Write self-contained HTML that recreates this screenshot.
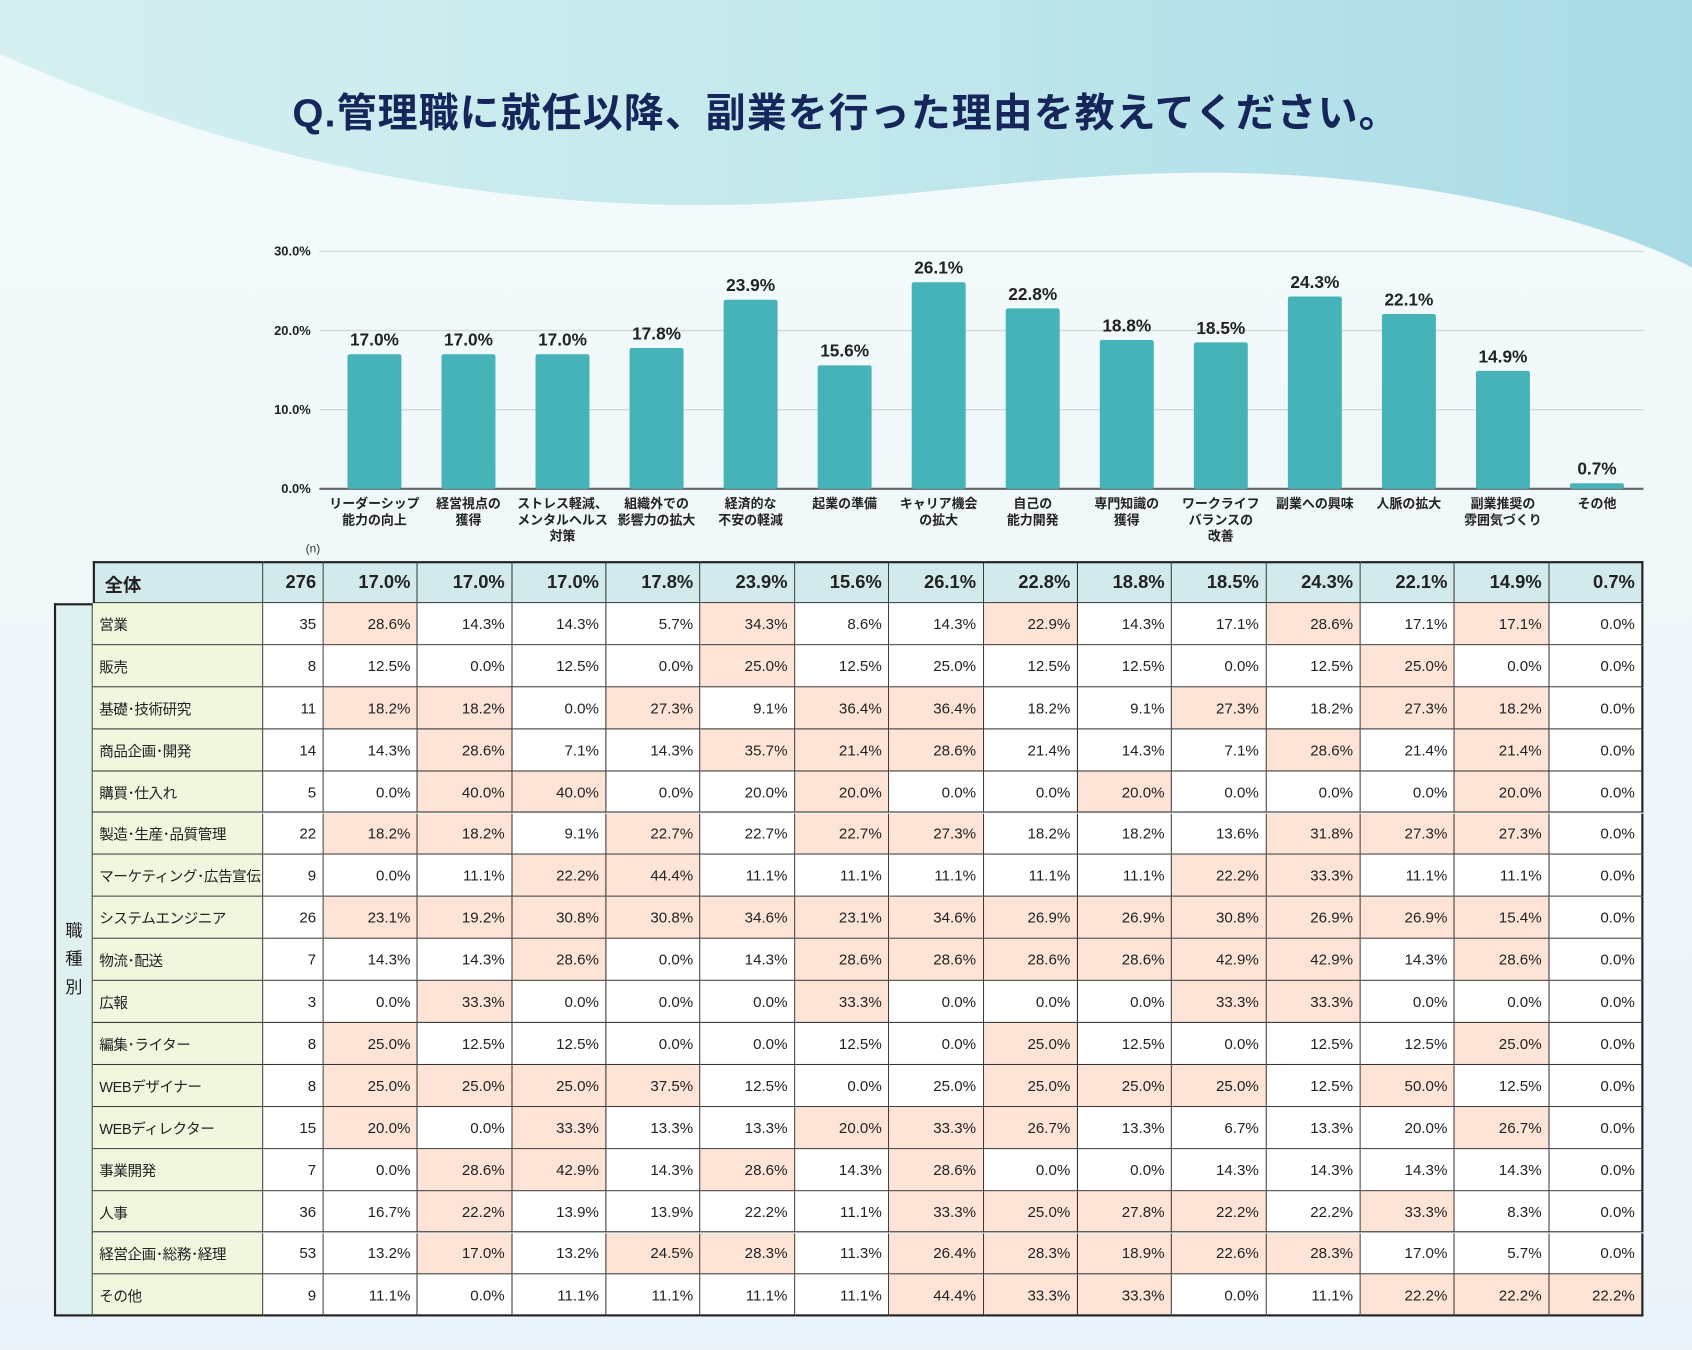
<!DOCTYPE html>
<html lang="ja"><head><meta charset="utf-8">
<style>
html,body{margin:0;padding:0;width:1692px;height:1350px;overflow:hidden;background:#eef7fa;}
#wrap{position:absolute;left:0;top:0;width:1568px;height:1251px;transform:scale(1.07908);transform-origin:0 0;
font-family:"Liberation Sans","Noto Sans CJK JP",sans-serif;color:#222;}
.c{position:absolute;box-sizing:border-box;border-right:1.5px solid #333;border-bottom:1.5px solid #333;font-size:14px;display:flex;align-items:center;justify-content:flex-end;padding-right:6px;white-space:nowrap;overflow:hidden;}
</style></head><body>
<div id="wrap">
<svg width="1568" height="1251" style="position:absolute;left:0;top:0">
<defs><linearGradient id="g" x1="0" y1="0" x2="1" y2="0"><stop offset="0" stop-color="#d6f0f1"/><stop offset="0.5" stop-color="#c2e8ec"/><stop offset="1" stop-color="#a9dbe6"/></linearGradient>
<linearGradient id="b" x1="0" y1="0" x2="0" y2="1"><stop offset="0" stop-color="#f3fbfb"/><stop offset="1" stop-color="#ebf3fa"/></linearGradient></defs>
<rect width="1568" height="1251" fill="url(#b)"/>
<path d="M0 0 H1568 V248 C1480 200 1300 160 1120 160 C950 160 820 190 650 190 C420 190 200 140 0 50 Z" fill="url(#g)"/>
</svg>
<div style="position:absolute;left:0;width:1568px;top:74px;text-align:center;font-size:37px;font-weight:bold;color:#16265a;letter-spacing:1px;">Q.管理職に就任以降、副業を行った理由を教えてください。</div>
<svg id="chart" width="1568" height="520" style="position:absolute;left:0;top:0"></svg>
<div id="tbl"></div>
</div>
<script>
const categories=["リーダーシップ|能力の向上","経営視点の|獲得","ストレス軽減、|メンタルヘルス|対策","組織外での|影響力の拡大","経済的な|不安の軽減","起業の準備","キャリア機会|の拡大","自己の|能力開発","専門知識の|獲得","ワークライフ|バランスの|改善","副業への興味","人脈の拡大","副業推奨の|雰囲気づくり","その他"];
const overall=[17.0,17.0,17.0,17.8,23.9,15.6,26.1,22.8,18.8,18.5,24.3,22.1,14.9,0.7];
const overallN=276;
const yTicks=[0,10,20,30];
const rowLabels=["営業","販売","基礎･技術研究","商品企画･開発","購買･仕入れ","製造･生産･品質管理","マーケティング･広告宣伝","システムエンジニア","物流･配送","広報","編集･ライター","WEBデザイナー","WEBディレクター","事業開発","人事","経営企画･総務･経理","その他"];
const rowN=[35,8,11,14,5,22,9,26,7,3,8,8,15,7,36,53,9];
const rowValues=[
[28.6,14.3,14.3,5.7,34.3,8.6,14.3,22.9,14.3,17.1,28.6,17.1,17.1,0.0],
[12.5,0.0,12.5,0.0,25.0,12.5,25.0,12.5,12.5,0.0,12.5,25.0,0.0,0.0],
[18.2,18.2,0.0,27.3,9.1,36.4,36.4,18.2,9.1,27.3,18.2,27.3,18.2,0.0],
[14.3,28.6,7.1,14.3,35.7,21.4,28.6,21.4,14.3,7.1,28.6,21.4,21.4,0.0],
[0.0,40.0,40.0,0.0,20.0,20.0,0.0,0.0,20.0,0.0,0.0,0.0,20.0,0.0],
[18.2,18.2,9.1,22.7,22.7,22.7,27.3,18.2,18.2,13.6,31.8,27.3,27.3,0.0],
[0.0,11.1,22.2,44.4,11.1,11.1,11.1,11.1,11.1,22.2,33.3,11.1,11.1,0.0],
[23.1,19.2,30.8,30.8,34.6,23.1,34.6,26.9,26.9,30.8,26.9,26.9,15.4,0.0],
[14.3,14.3,28.6,0.0,14.3,28.6,28.6,28.6,28.6,42.9,42.9,14.3,28.6,0.0],
[0.0,33.3,0.0,0.0,0.0,33.3,0.0,0.0,0.0,33.3,33.3,0.0,0.0,0.0],
[25.0,12.5,12.5,0.0,0.0,12.5,0.0,25.0,12.5,0.0,12.5,12.5,25.0,0.0],
[25.0,25.0,25.0,37.5,12.5,0.0,25.0,25.0,25.0,25.0,12.5,50.0,12.5,0.0],
[20.0,0.0,33.3,13.3,13.3,20.0,33.3,26.7,13.3,6.7,13.3,20.0,26.7,0.0],
[0.0,28.6,42.9,14.3,28.6,14.3,28.6,0.0,0.0,14.3,14.3,14.3,14.3,0.0],
[16.7,22.2,13.9,13.9,22.2,11.1,33.3,25.0,27.8,22.2,22.2,33.3,8.3,0.0],
[13.2,17.0,13.2,24.5,28.3,11.3,26.4,28.3,18.9,22.6,28.3,17.0,5.7,0.0],
[11.1,0.0,11.1,11.1,11.1,11.1,44.4,33.3,33.3,0.0,11.1,22.2,22.2,22.2]];

const NS="http://www.w3.org/2000/svg";
const svg=document.getElementById('chart');
const y0=453,y1=233,xL=296,xR=1523;
const yS=v=>y0-(v/30)*(y0-y1);
const xS=i=>347+i*87.15;
function mk(t,a,txt){const e=document.createElementNS(NS,t);for(const k in a)e.setAttribute(k,a[k]);if(txt!=null)e.textContent=txt;svg.appendChild(e);return e;}
yTicks.forEach(t=>{
 const l=mk('line',{x1:xL,x2:xR,y1:yS(t),y2:yS(t),stroke:t===0?'#666':'#d4d8da','stroke-width':t===0?2:1.2});
 
 
 const tx=mk('text',{x:288,y:yS(t)+4,'text-anchor':'end','font-size':12,'font-weight':'bold',fill:'#222'},t.toFixed(1)+'%');
 
 
});
overall.forEach((v,i)=>{
 const b=mk('rect',{x:xS(i)-25,y:yS(v),width:50,height:y0-yS(v),fill:'#45b3b7',rx:2});
 
 
 const t=mk('text',{x:xS(i),y:yS(v)-8,'text-anchor':'middle','font-size':16,'font-weight':'bold',fill:'#222'},v.toFixed(1)+'%');
 
 
 categories[i].split('|').forEach((s,j)=>{
  const c=mk('text',{x:xS(i),y:471+j*15,'text-anchor':'middle','font-size':12,'font-weight':'bold',fill:'#222'},s);
  
  
 });
});
const nt=mk('text',{x:290,y:512,'text-anchor':'middle','font-size':11,fill:'#333'},'(n)');



const tbl=document.getElementById('tbl');
const colX=i=>300+i*87.36;
const top0=520,hH=39,rH=38.9;
function cell(x,y,w,h,txt,bg,extra){
 const d=document.createElement('div');d.className='c';
 d.style.cssText+=`left:${x}px;top:${y}px;width:${w}px;height:${h}px;background:${bg};`+(extra||'');
 d.textContent=txt;tbl.appendChild(d);return d;
}
let h=cell(86,top0,158,hH,'全体','#d3eaec','justify-content:flex-start;padding-left:9px;font-size:17px;font-weight:bold;border-top:2px solid #222;border-left:2px solid #222;');


h=cell(244,top0,56,hH,String(overallN),'#d3eaec','font-size:17px;font-weight:bold;border-top:2px solid #222;');


overall.forEach((v,i)=>{
 const c=cell(colX(i),top0,87.36,hH,v.toFixed(1)+'%','#d3eaec','font-size:17px;font-weight:bold;border-top:2px solid #222;'+(i===13?'border-right:2px solid #222;':''));
 
 
});
const side=document.createElement('div');
side.style.cssText=`position:absolute;left:50px;top:${top0+hH}px;width:36px;height:${rH*17}px;box-sizing:border-box;border:2px solid #222;border-right:1.5px solid #333;background:#dff0f0;display:flex;align-items:center;justify-content:center;font-size:16px;line-height:26px;text-align:center;`;
side.innerHTML='職<br>種<br>別';


tbl.appendChild(side);
rowLabels.forEach((lab,r)=>{
 const y=top0+hH+r*rH, last=r===16?'border-bottom:2px solid #222;':'';
 const l=cell(86,y,158,rH,lab,'#eff8df','justify-content:flex-start;padding-left:6px;font-size:13.5px;letter-spacing:-0.4px;'+last);
 
 
 const n=cell(244,y,56,rH,String(rowN[r]),'#fff',last);
 
 
 rowValues[r].forEach((v,i)=>{
  const bg=v>=overall[i]-0.05?'#fde4d7':'#fff';
  const c=cell(colX(i),y,87.36,rH,v.toFixed(1)+'%',bg,last+(i===13?'border-right:2px solid #222;':''));
  
  
 });
});
</script>
</body></html>
